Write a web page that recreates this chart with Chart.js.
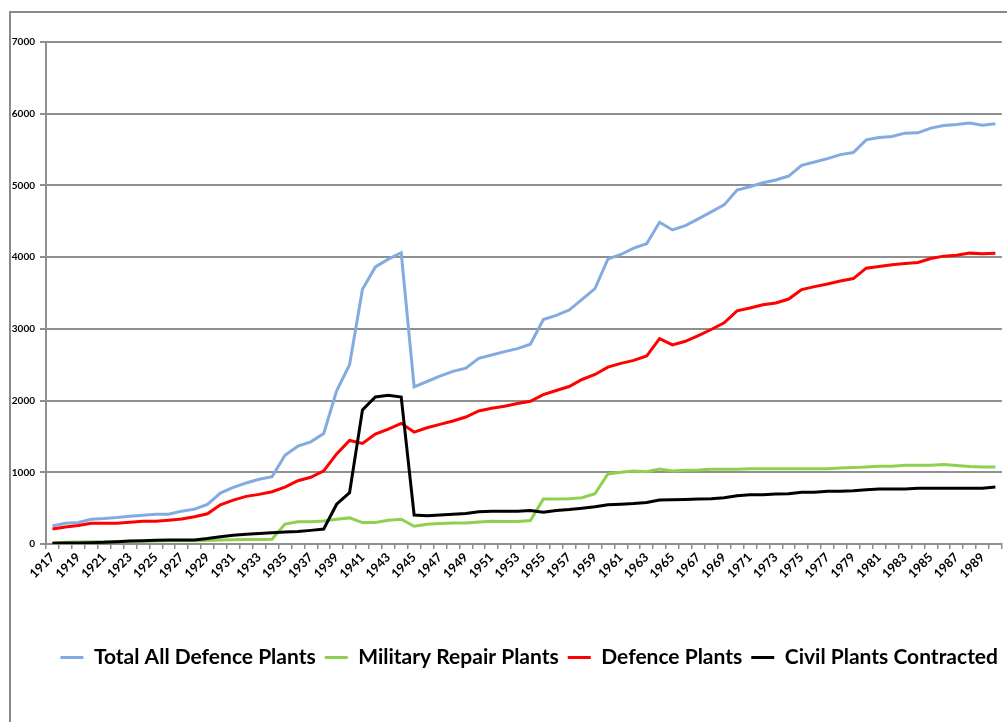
<!DOCTYPE html>
<html>
<head>
<meta charset="utf-8">
<title>Defence Plants 1917-1990</title>
<script src="https://cdn.jsdelivr.net/npm/chart.js@4.4.1/dist/chart.umd.min.js"></script>
<style>
  html, body { margin: 0; padding: 0; background: #fff; overflow: hidden; }
  #wrap { position: relative; width: 1007px; height: 722px; }
  #frame {
    position: absolute; left: 9px; top: 11px; width: 1100px; height: 800px;
    border-left: 2px solid #8a8a8a; border-top: 2px solid #8a8a8a;
    pointer-events: none;
  }
</style>
</head>
<body>
<div id="wrap">
  <canvas id="chart" width="1007" height="722"></canvas>
  <div id="frame"></div>
</div>
<script>
// years on the category axis
const years = [];
for (let y = 1917; y <= 1990; y++) years.push(String(y));

// values, 1917..1990
const totalAll = [
  252, 290, 299, 346, 355, 369, 388, 402, 416, 416,
  458, 486, 551, 710, 790, 850, 902, 939, 1238, 1364,
  1425, 1542, 2136, 2500, 3551, 3864, 3972, 4061, 2192, 2266,
  2341, 2407, 2453, 2589, 2636, 2682, 2724, 2785, 3131, 3187,
  3262, 3411, 3561, 3972, 4037, 4126, 4187, 4486, 4379, 4439,
  4533, 4631, 4729, 4935, 4981, 5037, 5075, 5131, 5280, 5327,
  5374, 5430, 5458, 5636, 5668, 5682, 5729, 5734, 5799, 5836,
  5850, 5869, 5841, 5860
];
const militaryRepair = [
  15, 25, 28, 30, 32, 35, 38, 40, 42, 45,
  45, 45, 50, 55, 60, 62, 62, 65, 278, 310,
  310, 320, 346, 364, 299, 299, 332, 346, 248, 276,
  285, 294, 294, 308, 318, 313, 313, 327, 626, 626,
  631, 645, 701, 977, 1000, 1019, 1009, 1047, 1019, 1028,
  1033, 1042, 1042, 1042, 1051, 1051, 1051, 1051, 1051, 1051,
  1051, 1060, 1065, 1075, 1084, 1084, 1098, 1098, 1098, 1107,
  1093, 1079, 1075, 1075
];
const defencePlants = [
  210, 238, 257, 290, 290, 290, 304, 318, 318, 332,
  350, 379, 421, 547, 612, 664, 692, 729, 794, 883,
  930, 1019, 1257, 1444, 1402, 1533, 1603, 1682, 1561, 1621,
  1668, 1715, 1771, 1855, 1893, 1921, 1958, 1991, 2084, 2140,
  2196, 2294, 2364, 2467, 2519, 2561, 2621, 2864, 2776, 2827,
  2907, 2991, 3084, 3252, 3290, 3336, 3360, 3416, 3547, 3589,
  3626, 3668, 3701, 3846, 3869, 3893, 3911, 3925, 3981, 4014,
  4028, 4056, 4047, 4056
];
const civilContracted = [
  9, 14, 14, 19, 24, 33, 43, 47, 52, 57,
  57, 57, 76, 100, 123, 137, 147, 156, 166, 175,
  190, 209, 555, 716, 1870, 2050, 2075, 2050, 405, 395,
  405, 415, 425, 450, 458, 458, 458, 467, 444, 467,
  481, 500, 519, 547, 556, 565, 579, 612, 617, 621,
  626, 631, 645, 673, 687, 687, 696, 701, 720, 720,
  734, 734, 743, 757, 766, 766, 766, 776, 776, 776,
  776, 776, 776, 794
];

const FONT = "Lato, 'Open Sans', sans-serif";
const GRID = '#8f8f8f';

function series(label, data, color, order) {
  return {
    label: label,
    data: data,
    borderColor: color,
    backgroundColor: color,
    borderWidth: 3,
    pointRadius: 0,
    pointHoverRadius: 0,
    tension: 0,
    fill: false,
    order: order
  };
}

new Chart(document.getElementById('chart'), {
  type: 'line',
  data: {
    labels: years,
    datasets: [
      series('Total All Defence Plants', totalAll, '#84abe0', 4),
      series('Military Repair Plants', militaryRepair, '#8fd14f', 3),
      series('Defence Plants', defencePlants, '#ff0000', 2),
      series('Civil Plants Contracted', civilContracted, '#000000', 1)
    ]
  },
  options: {
    responsive: false,
    animation: false,
    layout: { padding: { top: 42, right: 0, bottom: 44, left: 0 } },
    plugins: {
      tooltip: { enabled: false },
      legend: {
        position: 'bottom',
        align: 'end',
        labels: {
          usePointStyle: true,
          pointStyle: 'line',
          pointStyleWidth: 23,
          color: '#000',
          padding: 9,
          font: { family: FONT, size: 21, weight: 'bold' },
          sort: (a, b) => a.datasetIndex - b.datasetIndex
        }
      }
    },
    scales: {
      x: {
        offset: true,
        afterFit: s => { s.height = 94; },
        grid: {
          offset: true,
          drawOnChartArea: false,
          color: GRID,
          lineWidth: 1.5,
          tickLength: 5
        },
        border: { display: true, color: GRID, width: 2 },
        ticks: {
          autoSkip: false,
          minRotation: 45,
          maxRotation: 45,
          padding: 1,
          color: '#000',
          font: { family: FONT, size: 12.5, weight: 'bold' },
          callback: function (v, i) { return i % 2 === 0 ? this.getLabelForValue(v) : ''; }
        }
      },
      y: {
        min: 0,
        max: 7000,
        afterFit: s => { s.width = 46; },
        grid: { color: GRID, lineWidth: 2, tickLength: 6 },
        border: { display: true, color: GRID, width: 2 },
        ticks: {
          stepSize: 1000,
          padding: 5,
          color: '#000',
          font: { family: FONT, size: 10, weight: 'bold' },
          callback: v => String(v)
        }
      }
    }
  }
});
</script>
</body>
</html>
